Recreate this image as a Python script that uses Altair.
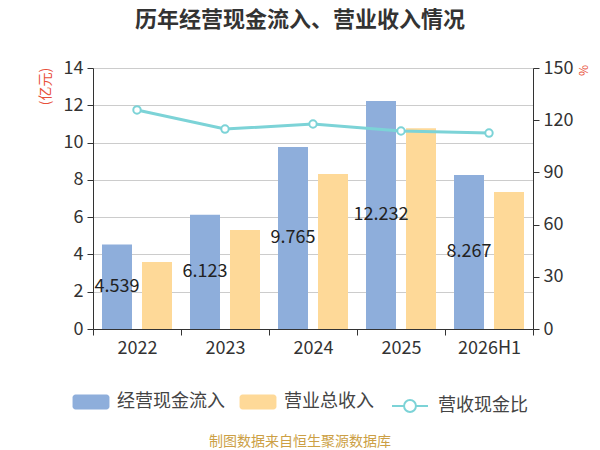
import altair as alt
import pandas as pd

years = ["2022", "2023", "2024", "2025", "2026H1"]
cash_in = [4.539, 6.123, 9.765, 12.232, 8.267]
revenue = [3.59, 5.31, 8.32, 10.77, 7.35]
ratio = [125.9, 114.9, 117.8, 113.8, 112.6]

s_cash = "经营现金流入"
s_rev = "营业总收入"
s_ratio = "营收现金比"
title_text = "历年经营现金流入、营业收入情况"
source_text = "制图数据来自恒生聚源数据库"

FONT = "Noto Sans CJK SC"
BLUE = "#8EAEDB"
ORANGE = "#FED998"
TEAL = "#7CD3D7"

bars_df = pd.DataFrame({
    "year": years * 2,
    "series": [s_cash] * len(years) + [s_rev] * len(years),
    "value": cash_in + revenue,
})
line_df = pd.DataFrame({"year": years, "series": [s_ratio] * len(years), "ratio": ratio})
src_df = pd.DataFrame({"t": [source_text]})

rect_path = ("M-1.03,-0.5 L1.03,-0.5 A0.2,0.2,0,0,1,1.23,-0.3 L1.23,0.3 "
             "A0.2,0.2,0,0,1,1.03,0.5 L-1.03,0.5 A0.2,0.2,0,0,1,-1.23,0.3 "
             "L-1.23,-0.3 A0.2,0.2,0,0,1,-1.03,-0.5 Z")
line_path = ("M-1,0 L-0.33,0 M0.33,0 A0.33,0.33,0,1,1,-0.33,0 "
             "A0.33,0.33,0,1,1,0.33,0 M0.33,0 L1,0")

x_axis = alt.Axis(labelFontSize=18, labelColor="#333", labelFont=FONT,
                  labelAngle=0, tickBand="extent", tickSize=6,
                  tickColor="#333", domainColor="#333", labelPadding=4,
                  grid=False)
x_scale = alt.Scale(paddingInner=0, paddingOuter=0)


def x_enc():
    return alt.X("year:N", sort=years, title=None, scale=x_scale, axis=x_axis)


xoff = alt.XOffset("series:N", scale=alt.Scale(domain=[s_cash, s_rev],
                                               paddingInner=0.25, paddingOuter=0.225))
left_axis = alt.Axis(values=list(range(0, 15, 2)), grid=True, gridColor="#cccccc",
                     labelOverlap=False,
                     domainColor="#333", tickColor="#333", tickSize=6,
                     labelFontSize=18, labelColor="#333", labelFont=FONT,
                     labelPadding=4, title="(亿元)", titleColor="#E8503A",
                     titleFontSize=14, titleFont=FONT, titleFontWeight="normal",
                     titleX=-48, titleY=18, titleAngle=270,
                     titleAlign="center", titleBaseline="middle")
left_scale = alt.Scale(domain=[0, 14], nice=False)

right_axis = alt.Axis(orient="right", values=list(range(0, 151, 30)), grid=False,
                      labelOverlap=False,
                      domainColor="#333", tickColor="#333", tickSize=6,
                      labelFontSize=18, labelColor="#333", labelFont=FONT,
                      labelPadding=4, title="%", titleColor="#E8503A",
                      titleFontSize=12, titleFont=FONT, titleFontWeight="normal",
                      titleX=49, titleY=2, titleAngle=90,
                      titleAlign="center", titleBaseline="middle")
right_scale = alt.Scale(domain=[0, 150], nice=False)

bars = alt.Chart(bars_df).mark_bar().encode(
    x=x_enc(),
    xOffset=xoff,
    y=alt.Y("value:Q", scale=left_scale, axis=left_axis),
    color=alt.Color("series:N",
                    scale=alt.Scale(domain=[s_cash, s_rev], range=[BLUE, ORANGE]),
                    legend=alt.Legend(orient="none", legendX=-17, legendY=319,
                                      direction="horizontal", title=None,
                                      symbolType=rect_path, symbolSize=900,
                                      symbolStrokeWidth=0,
                                      labelFontSize=18, labelColor="#444",
                                      labelFont=FONT, labelOffset=11,
                                      columnPadding=14)),
)

labels = alt.Chart(bars_df).transform_filter(
    alt.datum.series == s_cash
).transform_calculate(mid="datum.value / 2").mark_text(
    fontSize=18, color="#222", font=FONT
).encode(
    x=x_enc(),
    xOffset=xoff,
    y=alt.Y("mid:Q", scale=left_scale, axis=left_axis),
    text=alt.Text("value:Q", format=".3f"),
)

source = alt.Chart(src_df).mark_text(
    fontSize=14, color="#CC9F45", font=FONT
).encode(text="t:N", x=alt.value(207), y=alt.value(374))

left = alt.layer(bars, labels, source)

line = alt.Chart(line_df).mark_line(strokeWidth=3).encode(
    x=x_enc(),
    y=alt.Y("ratio:Q", scale=right_scale, axis=right_axis),
    stroke=alt.Stroke("series:N",
                      scale=alt.Scale(domain=[s_ratio], range=[TEAL]),
                      legend=alt.Legend(orient="none", legendX=298, legendY=319,
                                        direction="horizontal", title=None,
                                        symbolType=line_path, symbolSize=1296,
                                        symbolStrokeWidth=2, symbolFillColor="white",
                                        labelFontSize=18, labelColor="#444",
                                        labelFont=FONT, labelOffset=9)),
)
points = alt.Chart(line_df).mark_point(
    filled=True, fill="white", stroke=TEAL, strokeWidth=2, size=55, opacity=1
).encode(x=x_enc(), y=alt.Y("ratio:Q", scale=right_scale, axis=right_axis))

right = alt.layer(line, points)

chart = alt.layer(left, right).resolve_scale(
    y="independent", color="independent", stroke="independent"
).properties(
    width=440, height=261,
    autosize=alt.AutoSizeParams(type="none"),
    padding={"left": 85, "top": 60, "right": 59, "bottom": 122},
    title=alt.TitleParams(title_text, anchor="middle", fontSize=22, fontWeight="bold",
                          font=FONT, color="#333", offset=27, dx=-13),
).configure_view(strokeWidth=0, stroke="transparent").configure(background="white")

chart.save("out.html", embed_options={"renderer": "svg", "actions": False})
